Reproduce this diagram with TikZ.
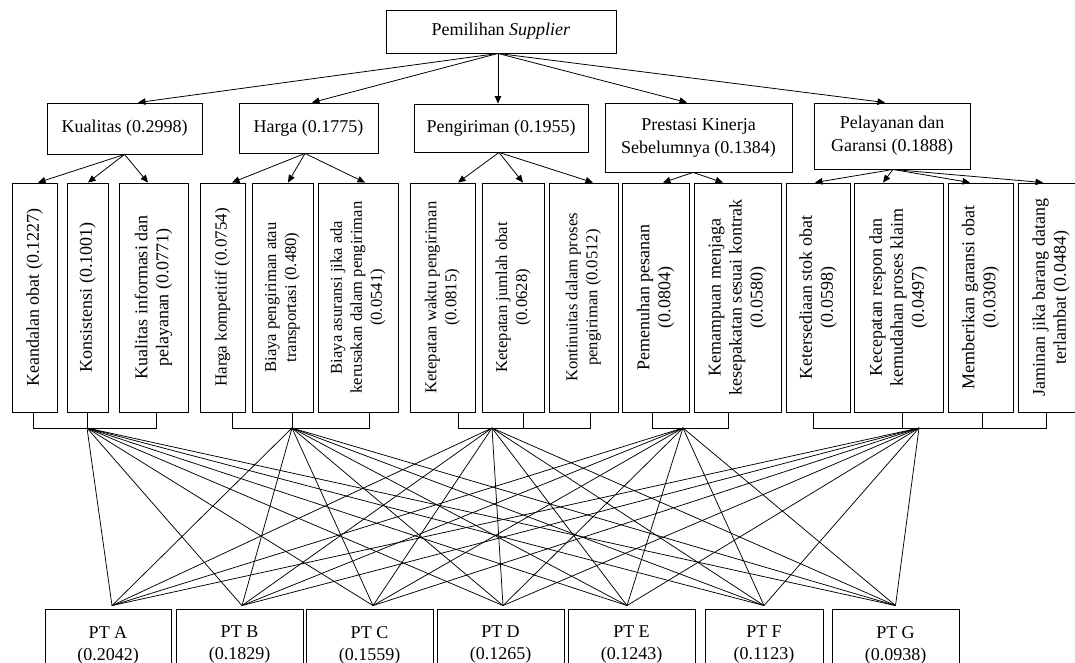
\documentclass[tikz,border=0pt]{standalone}
\usepackage{fontspec}
\setmainfont{Liberation Serif}
\usetikzlibrary{arrows.meta}
\newcommand\myfs[2]{\fontsize{#1}{#2}\selectfont}
\begin{document}
\begin{tikzpicture}[x=1pt,y=-1pt,
  box/.style={draw,line width=0.9pt,inner sep=0pt,align=center,font=\myfs{18}{23}},
  vbox/.style={box,rotate=90,minimum width=229pt,font=\myfs{18}{21}},
  vsmall/.style={font=\myfs{16.6}{20}},
  ptbox/.style={box,minimum height=72pt,font=\myfs{18}{22}},
  arr/.style={line width=0.8pt,-{Triangle[length=7.5pt,width=6.5pt]}},
  ln/.style={line width=0.8pt},
  web/.style={line width=0.75pt}]
\useasboundingbox (0,0) rectangle (1075,663);

% level 1 and 2
\node[box,minimum width=230pt,minimum height=43pt] (top) at (501,31.5) {Pemilihan \textit{Supplier}};
\node[box,minimum width=155pt,minimum height=51pt] (kual) at (124.5,128.5) {Kualitas (0.2998)};
\node[box,minimum width=139pt,minimum height=50pt] (harga) at (308.5,128) {Harga (0.1775)};
\node[box,minimum width=174pt,minimum height=48pt] (peng) at (501,128) {Pengiriman (0.1955)};
\node[box,minimum width=187pt,minimum height=69pt] (pres) at (698.5,137.5) {Prestasi Kinerja\\Sebelumnya (0.1384)};
\node[box,minimum width=156pt,minimum height=66pt] (pel) at (892,136) {Pelayanan dan\\Garansi (0.1888)};

% level 3 (vertical)
\node[vbox,minimum height=45pt] (v1) at (34.5,297.5) {Keandalan obat (0.1227)};
\node[vbox,minimum height=41pt] (v2) at (87.5,297.5) {Konsistensi (0.1001)};
\node[vbox,minimum height=69pt] (v3) at (153.5,297.5) {Kualitas informasi dan\\pelayanan (0.0771)};
\node[vbox,minimum height=45pt,font=\myfs{17}{20}] (v4) at (222.5,297.5) {Harga kompetitif (0.0754)};
\node[vbox,vsmall,minimum height=61pt] (v5) at (282.5,297.5) {Biaya pengiriman atau\\transportasi (0.480)};
\node[vbox,vsmall,minimum height=80pt] (v6) at (358,297.5) {Biaya asuransi jika ada\\kerusakan dalam pengiriman\\(0.0541)};
\node[vbox,vsmall,minimum height=65pt] (v7) at (442.5,297.5) {Ketepatan waktu pengiriman\\(0.0815)};
\node[vbox,vsmall,minimum height=62pt] (v8) at (513,297.5) {Ketepatan jumlah obat\\(0.0628)};
\node[vbox,vsmall,minimum height=69pt] (v9) at (583.5,297.5) {Kontinuitas dalam proses\\pengiriman (0.0512)};
\node[vbox,minimum height=67pt] (v10) at (655.5,297.5) {Pemenuhan pesanan\\(0.0804)};
\node[vbox,minimum height=87pt] (v11) at (737.5,297.5) {Kemampuan menjaga\\kesepakatan sesuai kontrak\\(0.0580)};
\node[vbox,minimum height=64pt] (v12) at (818,297.5) {Ketersediaan stok obat\\(0.0598)};
\node[vbox,minimum height=89pt] (v13) at (898.5,297.5) {Kecepatan respon dan\\kemudahan proses klaim\\(0.0497)};
\node[vbox,minimum height=65pt] (v14) at (980.5,297.5) {Memberikan garansi obat\\(0.0309)};
\node[vbox,minimum height=66pt] (v15) at (1051,297.5) {Jaminan jika barang datang\\terlambat (0.0484)};

% alternatives
\node[ptbox,minimum width=126pt] (pa) at (108,645) {PT A\\(0.2042)};
\node[ptbox,minimum width=127pt] (pb) at (239.5,645) {PT B\\(0.1829)};
\node[ptbox,minimum width=127pt] (pc) at (369.5,645) {PT C\\(0.1559)};
\node[ptbox,minimum width=127pt] (pd) at (500.5,645) {PT D\\(0.1265)};
\node[ptbox,minimum width=127pt] (pe) at (631.5,645) {PT E\\(0.1243)};
\node[ptbox,minimum width=118pt] (pf) at (764,645) {PT F\\(0.1123)};
\node[ptbox,minimum width=127pt] (pg) at (895.5,645) {PT G\\(0.0938)};

% arrows level 1 -> 2
\coordinate (o) at ([xshift=-3pt]top.south);
\draw[arr] (o) -- ([xshift=13.5pt]kual.north);
\draw[arr] (o) -- ([xshift=3.5pt]harga.north);
\draw[arr] (o) -- ([xshift=-3pt]peng.north);
\draw[arr] (o) -- ([xshift=-11.5pt]pres.north);
\draw[arr] (o) -- ([xshift=-7pt]pel.north);

% arrows level 2 -> 3
\draw[arr] (kual.south) -- ([xshift=3.5pt]v1.east);
\draw[arr] (kual.south) -- ([xshift=0.5pt]v2.east);
\draw[arr] (kual.south) -- ([xshift=-5.5pt]v3.east);
\coordinate (oh) at ([xshift=-3.5pt]harga.south);
\draw[arr] (oh) -- ([xshift=9.5pt]v4.east);
\draw[arr] (oh) -- ([xshift=5.5pt]v5.east);
\draw[arr] (oh) -- ([xshift=7pt]v6.east);
\coordinate (op) at ([xshift=-2pt]peng.south);
\draw[arr] (op) -- ([xshift=15.5pt]v7.east);
\draw[arr] (op) -- ([xshift=10pt]v8.east);
\draw[arr] (op) -- ([xshift=9.5pt]v9.east);
\coordinate (os) at ([xshift=-5.5pt]pres.south);
\draw[arr] (os) -- ([xshift=7.5pt]v10.east);
\draw[arr] (os) -- ([xshift=-14.5pt]v11.east);
\coordinate (ol) at ([xshift=1pt]pel.south);
\draw[arr] (ol) -- ([xshift=-3pt]v12.east);
\draw[arr] (ol) -- ([xshift=-15.5pt]v13.east);
\draw[arr] (ol) -- ([xshift=-10.5pt]v14.east);
\draw[arr] (ol) -- ([xshift=-8pt]v15.east);

% brackets under level 3
\draw[ln] ([xshift=-1.5pt]v1.west) -- ++(0,16) -| ([xshift=2.5pt]v3.west);
\draw[ln] ([xshift=-0.5pt]v2.west) -- ++(0,16);
\draw[ln] ([xshift=9.5pt]v4.west) -- ++(0,16) -| ([xshift=11pt]v6.west);
\draw[ln] ([xshift=9.5pt]v5.west) -- ++(0,16);
\draw[ln] ([xshift=15.5pt]v7.west) -- ++(0,16) -| ([xshift=6.5pt]v9.west);
\draw[ln] ([xshift=10pt]v8.west) -- ++(0,16);
\draw[ln] ([xshift=-3.5pt]v10.west) -- ++(0,16) -| ([xshift=-9.5pt]v11.west);
\draw[ln] ([xshift=-5pt]v12.west) -- ++(0,16) -| ([xshift=-5pt]v15.west);
\draw[ln] ([xshift=3.5pt]v13.west) -- ++(0,16);
\draw[ln] ([xshift=1.5pt]v14.west) -- ++(0,16);

\coordinate (g1) at (87,428);
\coordinate (g2) at (292,428);
\coordinate (g3) at (492,428);
\coordinate (g4) at (683,428);
\coordinate (g5) at (919,428);

\coordinate (qa) at ([xshift=4pt,yshift=3pt]pa.north);
\coordinate (qb) at ([xshift=2.5pt,yshift=3pt]pb.north);
\coordinate (qc) at ([xshift=3.5pt,yshift=3pt]pc.north);
\coordinate (qd) at ([xshift=2.5pt,yshift=3pt]pd.north);
\coordinate (qe) at ([xshift=-4.5pt,yshift=3pt]pe.north);
\coordinate (qf) at ([yshift=3pt]pf.north);
\coordinate (qg) at ([yshift=3pt]pg.north);

\foreach \g in {g1,g2,g3,g4,g5}{
  \foreach \q in {qa,qb,qc,qd,qe,qf,qg}{
    \draw[web] (\g) -- (\q);
  }
}
\end{tikzpicture}
\end{document}
